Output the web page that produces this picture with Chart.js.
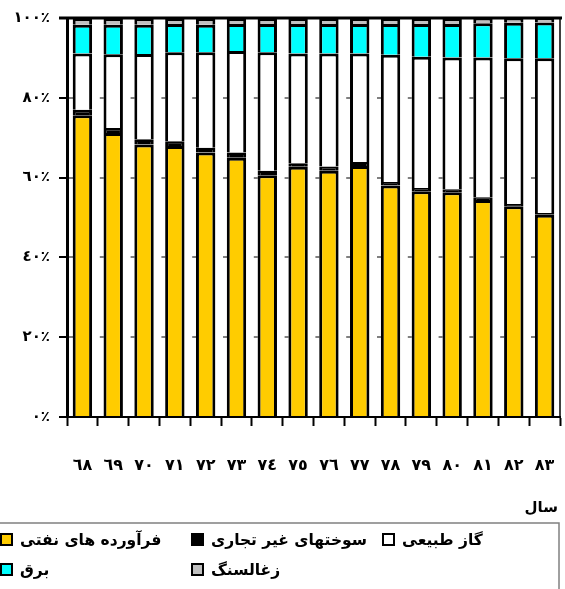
<!DOCTYPE html>
<html>
<head>
<meta charset="utf-8">
<script src="https://cdn.jsdelivr.net/npm/chart.js@4/dist/chart.umd.min.js"></script>
<style>
    html, body { margin: 0; padding: 0; background: #fff; }
    #wrap { width: 565px; height: 589px; }
</style>
</head>
<body>
<div id="wrap"><canvas id="energy-chart" width="565" height="589"></canvas></div>
<script>
// years (Persian calendar, 13xx)
const years = ['٦٨', '٦٩', '٧٠', '٧١', '٧٢', '٧٣', '٧٤', '٧٥', '٧٦', '٧٧', '٧٨', '٧٩', '٨٠', '٨١', '٨٢', '٨٣'];
const yTickLabels = ['٠٪', '٢٠٪', '٤٠٪', '٦٠٪', '٨٠٪', '١٠٠٪'];

// shares in percent, stacked bottom to top
const petroleum     = [75.6, 71.2, 68.3, 67.9, 66.3, 65.0, 60.6, 62.7, 61.7, 62.9, 58.0, 56.6, 56.3, 54.4, 52.8, 50.7];
const nonCommercial = [1.4, 1.2, 1.3, 1.2, 1.2, 1.3, 1.1, 0.9, 1.1, 1.0, 0.9, 0.8, 0.8, 0.7, 0.6, 0.4];
const naturalGas    = [14.1, 18.5, 21.4, 22.3, 23.9, 25.4, 29.7, 27.5, 28.3, 27.2, 31.9, 32.9, 33.0, 35.0, 36.5, 38.8];
const electricity   = [7.2, 7.4, 7.3, 7.1, 6.9, 6.8, 7.1, 7.4, 7.4, 7.4, 7.7, 8.2, 8.4, 8.6, 8.9, 9.0];
const coal          = [1.7, 1.7, 1.7, 1.5, 1.7, 1.5, 1.5, 1.5, 1.5, 1.5, 1.5, 1.5, 1.5, 1.3, 1.2, 1.1];

const xTitle = 'سال';

const FONT = '"DejaVu Sans", sans-serif';

// top and right frame of the plot area
const framePlugin = {
    id: 'frame',
    afterDatasetsDraw(chart) {
        const { ctx, chartArea: a } = chart;
        ctx.save();
        ctx.strokeStyle = '#000';
        ctx.lineWidth = 1.5;
        ctx.beginPath();
        ctx.moveTo(a.right, a.top);
        ctx.lineTo(a.right, a.bottom);
        ctx.stroke();
        ctx.lineWidth = 3;
        ctx.beginPath();
        ctx.moveTo(a.left - 8, a.top);
        ctx.lineTo(a.right + 2, a.top);
        ctx.stroke();
        ctx.restore();
    }
};

// axis title and boxed legend under the chart
const legendPlugin = {
    id: 'boxLegend',
    afterDraw(chart) {
        const { ctx } = chart;
        ctx.save();
        ctx.fillStyle = '#000';
        ctx.font = 'bold 15px ' + FONT;
        ctx.textBaseline = 'middle';
        ctx.textAlign = 'right';
        ctx.fillText(xTitle, 558, 508);

        ctx.strokeStyle = '#808080';
        ctx.lineWidth = 1.5;
        ctx.strokeRect(-2, 523, 561, 70);

        const colX = [1, 192, 383];
        const rowY = [540, 570];
        ctx.font = 'bold 15.5px ' + FONT;
        ctx.textAlign = 'left';
        chart.data.datasets.forEach((ds, i) => {
            const x = colX[i % 3];
            const y = rowY[Math.floor(i / 3)];
            ctx.fillStyle = ds.backgroundColor;
            ctx.fillRect(x, y - 6, 11, 11);
            ctx.strokeStyle = '#000';
            ctx.lineWidth = 2;
            ctx.strokeRect(x, y - 6, 11, 11);
            ctx.fillStyle = '#000';
            ctx.fillText(ds.label, x + 19, y + 1);
        });
        ctx.restore();
    }
};

function makeSet(label, data, color) {
    return {
        label: label,
        data: data,
        backgroundColor: color,
        borderColor: '#000',
        borderWidth: 3,
        inflateAmount: 0,
        barPercentage: 0.63,
        categoryPercentage: 1.0
    };
}

function renderChart() {
    const ctx = document.getElementById('energy-chart').getContext('2d');
    new Chart(ctx, {
        type: 'bar',
        data: {
            labels: years,
            datasets: [
                makeSet('فرآورده های نفتی', petroleum, '#FFCC00'),
                makeSet('سوختهای غیر تجاری', nonCommercial, '#000000'),
                makeSet('گاز طبیعی', naturalGas, '#FFFFFF'),
                makeSet('برق', electricity, '#00FFFF'),
                makeSet('زغالسنگ', coal, '#C0C0C0')
            ]
        },
        options: {
            responsive: false,
            animation: false,
            layout: { padding: { top: 15, right: 5, left: 0, bottom: 0 } },
            plugins: {
                legend: { display: false },
                tooltip: { enabled: false }
            },
            scales: {
                x: {
                    stacked: true,
                    offset: true,
                    grid: {
                        offset: true,
                        drawOnChartArea: false,
                        tickLength: 9,
                        tickColor: '#000',
                        tickWidth: 2
                    },
                    border: { color: '#000', width: 2 },
                    ticks: {
                        color: '#000',
                        font: { family: FONT, size: 16, weight: 'bold' },
                        padding: 30,
                        maxRotation: 0,
                        autoSkip: false
                    },
                    afterFit(scale) {
                        scale.height = 172;
                        // the big label gap should not narrow the plot
                        scale.paddingLeft = 0;
                        scale.paddingRight = 0;
                    }
                },
                y: {
                    stacked: true,
                    min: 0,
                    max: 100,
                    grid: {
                        color: '#808080',
                        lineWidth: 2,
                        tickLength: 8,
                        tickColor: '#000',
                        tickWidth: 2
                    },
                    border: { color: '#000', width: 3, dash: [4, 26.8] },
                    ticks: {
                        stepSize: 20,
                        color: '#000',
                        font: { family: FONT, size: 15, weight: 'bold' },
                        padding: 9,
                        callback: (v) => yTickLabels[v / 20]
                    },
                    afterFit(scale) { scale.width = 67; }
                }
            }
        },
        plugins: [framePlugin, legendPlugin]
    });
}

document.addEventListener('DOMContentLoaded', () => {
    renderChart();
});
</script>
</body>
</html>
